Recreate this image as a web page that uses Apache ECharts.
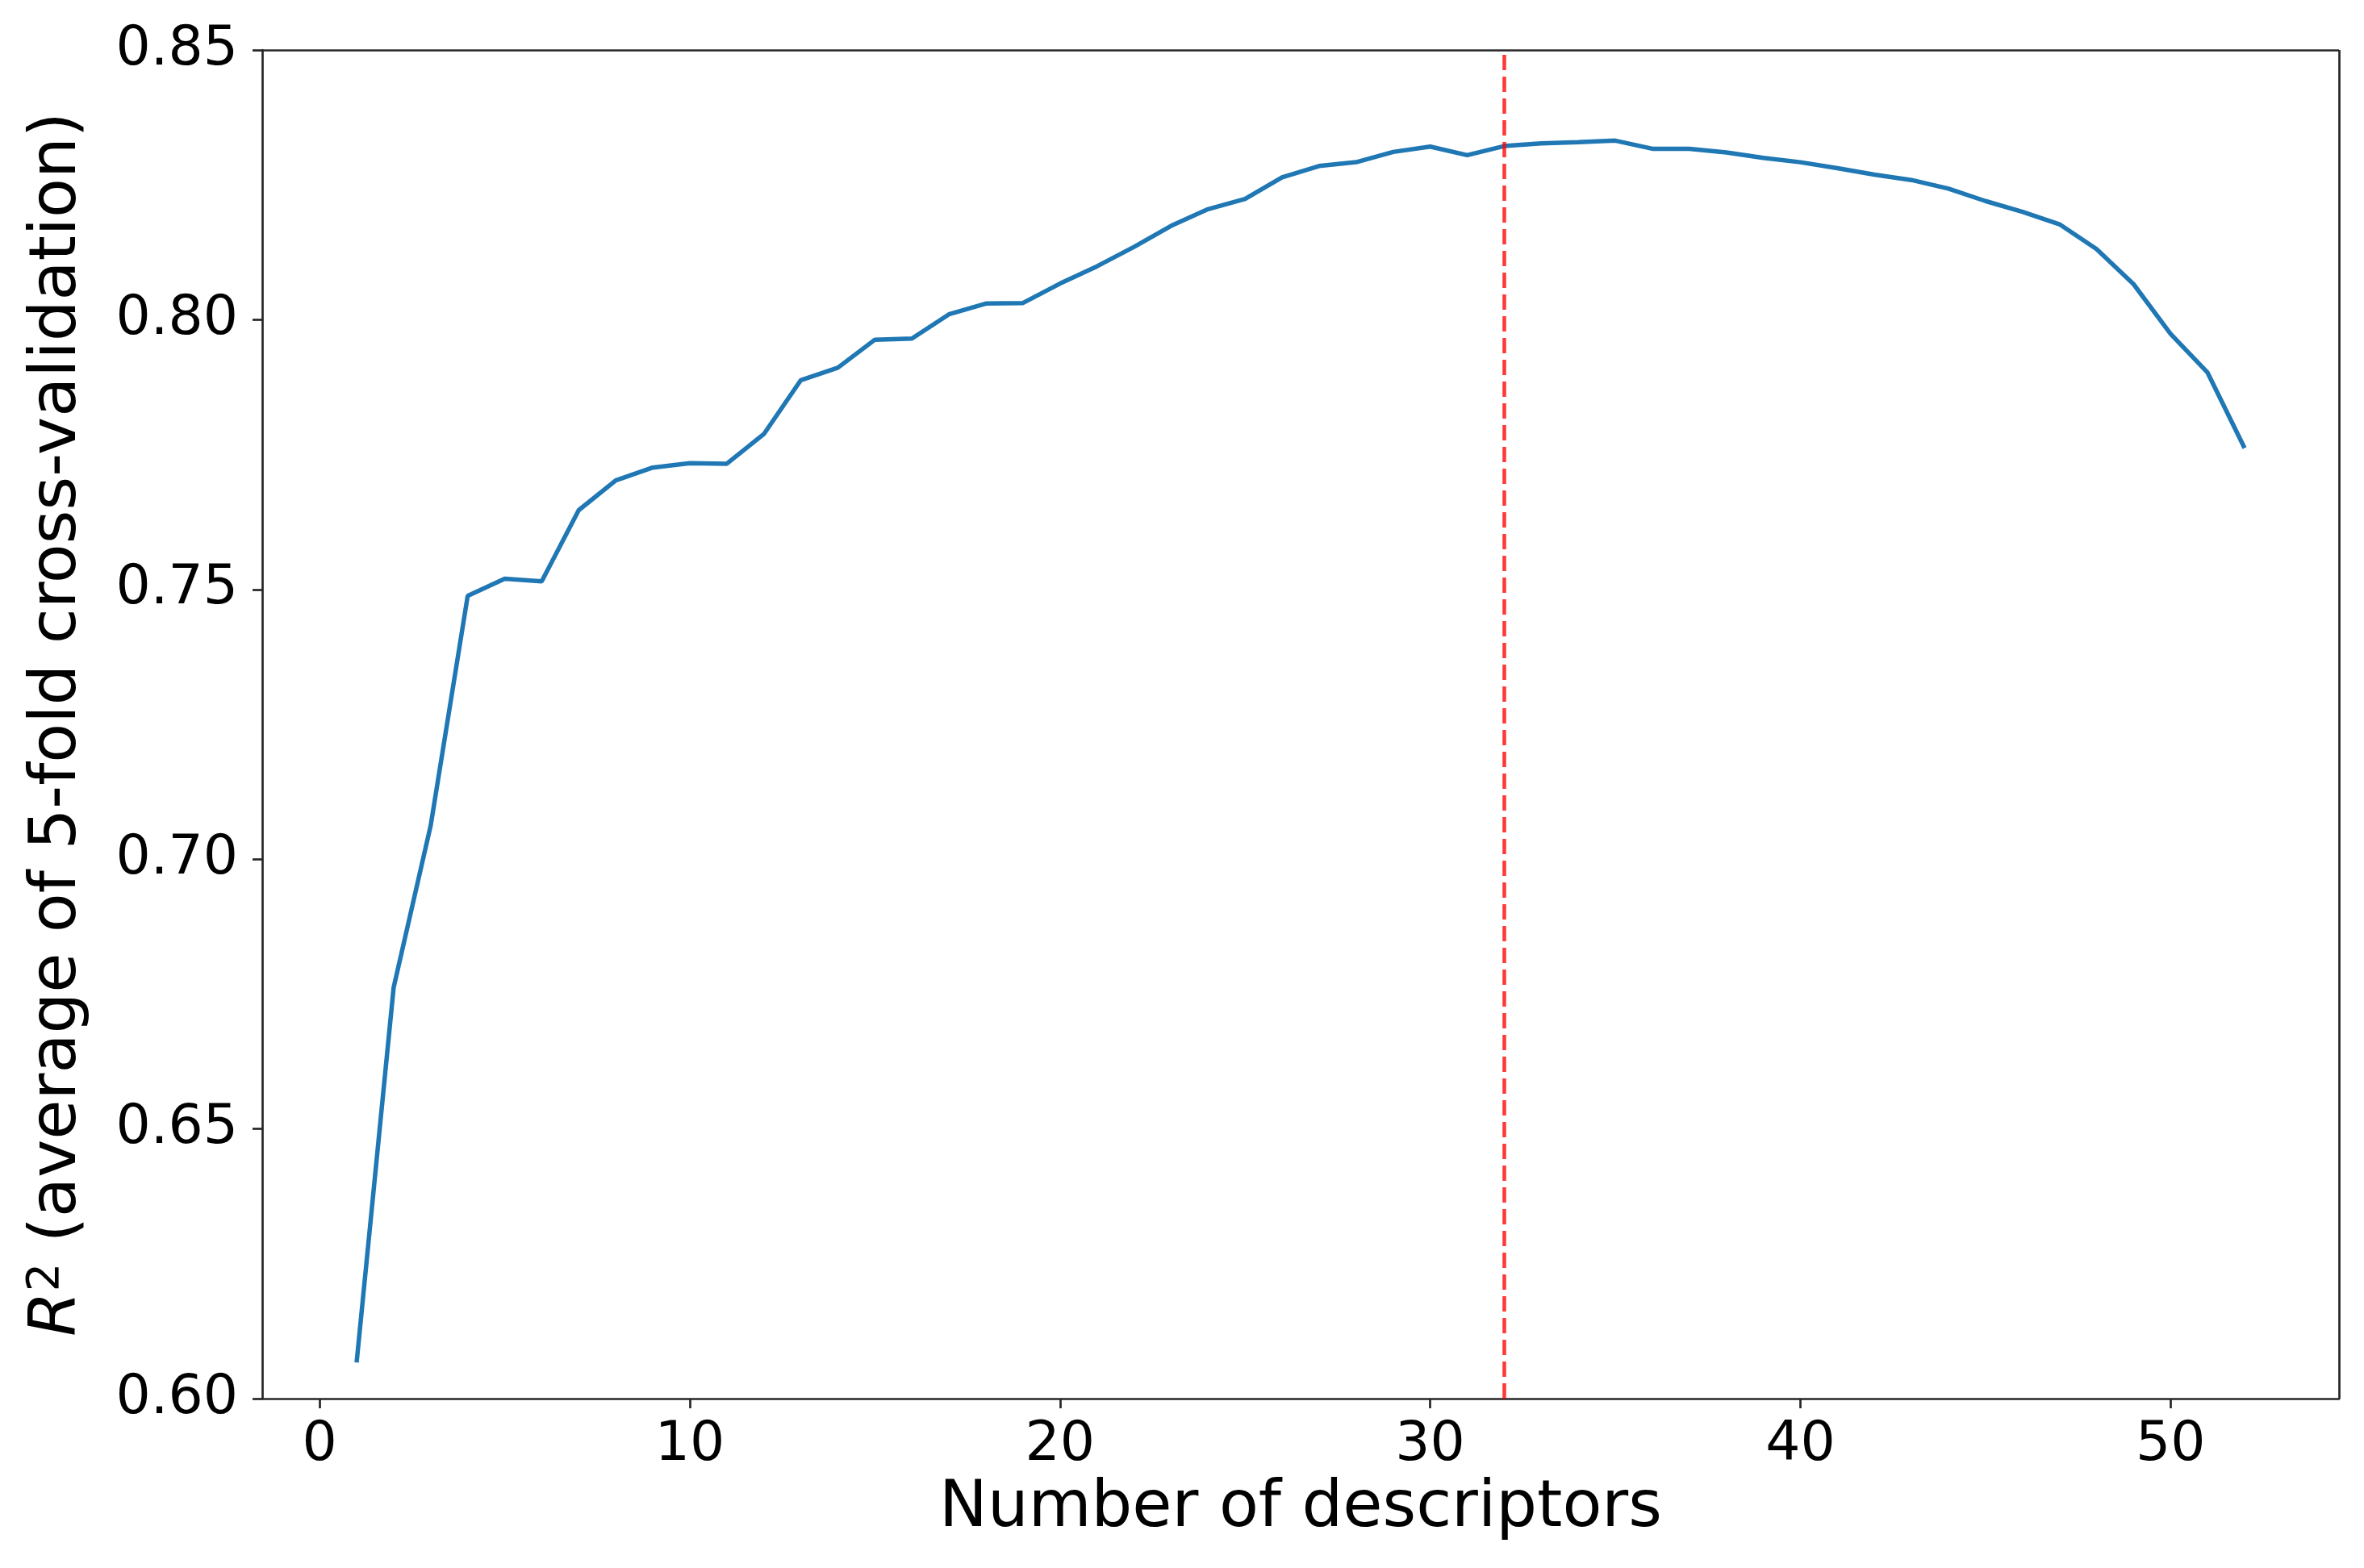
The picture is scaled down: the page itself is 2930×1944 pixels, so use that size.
<!DOCTYPE html>
<html>
<head>
<meta charset="utf-8">
<script src="https://cdn.jsdelivr.net/npm/echarts@6/dist/echarts.min.js"></script>
<style>
html,body{margin:0;padding:0;background:#fff;}
#chart{width:2930px;height:1944px;}
</style>
</head>
<body>
<div id="chart"></div>
<script>
// Number of descriptors (x values)
const descriptors = [1,2,3,4,5,6,7,8,9,10,11,12,13,14,15,16,17,18,19,20,21,22,23,24,25,26,27,28,29,30,31,32,33,34,35,36,37,38,39,40,41,42,43,44,45,46,47,48,49,50,51,52];
// R^2 average of 5-fold CV
const r2Values = [0.6067,0.6762,0.7062,0.7488,0.7520,0.7515,0.7647,0.7702,0.7726,0.7734,0.7733,0.7788,0.7888,0.7911,0.7963,0.7965,0.8010,0.8030,0.8031,0.8067,0.8099,0.8135,0.8174,0.8205,0.8224,0.8264,0.8285,0.8292,0.8311,0.8321,0.8305,0.8322,0.8327,0.8329,0.8332,0.8317,0.8317,0.8310,0.8300,0.8292,0.8281,0.8269,0.8259,0.8243,0.8220,0.8200,0.8177,0.8131,0.8066,0.7974,0.7902,0.7762];
const selectedCount = 32;
const xTicks = [0,10,20,30,40,50];
const yTicks = [0.60,0.65,0.70,0.75,0.80,0.85];

const chart = echarts.init(document.getElementById('chart'), null, {renderer:'canvas'});
const font = 'DejaVu Sans';
const axisColor = '#262626';
chart.setOption({
  animation:false,
  backgroundColor:'#ffffff',
  grid:{left:325, right:31, top:62, bottom:210, containLabel:false, show:false},
  xAxis:{
    type:'value', min:-1.55, max:54.55,
    name:'Number of descriptors', nameLocation:'middle', nameGap:96,
    nameTextStyle:{fontFamily:font, fontSize:80, color:'#000'},
    axisLine:{show:true, onZero:false, lineStyle:{color:axisColor, width:2.7}},
    axisTick:{show:true, inside:false, length:12, lineStyle:{color:axisColor, width:2.7}, customValues:xTicks},
    axisLabel:{fontFamily:font, fontSize:68, color:'#000', margin:24, customValues:xTicks, formatter:v=>String(Math.round(v))},
    splitLine:{show:false}
  },
  yAxis:{
    type:'value', min:0.60, max:0.85,
    name:'{it|R}{sup|2} (average of 5-fold cross-validation)', nameLocation:'middle', nameGap:210,
    nameTextStyle:{fontFamily:font, fontSize:80, color:'#000',
      rich:{
        it:{fontFamily:font, fontSize:80, fontStyle:'italic', color:'#000'},
        sup:{fontFamily:font, fontSize:56, color:'#000', verticalAlign:'top', padding:[0,0,30,0]}
      }},
    axisLine:{show:true, onZero:false, lineStyle:{color:axisColor, width:2.7}},
    axisTick:{show:true, inside:false, length:12, lineStyle:{color:axisColor, width:2.7}, customValues:yTicks},
    axisLabel:{fontFamily:font, fontSize:68, color:'#000', margin:30, customValues:yTicks, formatter:v=>v.toFixed(2)},
    splitLine:{show:false}
  },
  series:[
    {
      type:'line',
      data:descriptors.map((d,i)=>[d, r2Values[i]]),
      showSymbol:false, symbol:'none',
      lineStyle:{color:'#1f77b4', width:5.5},
      z:3,
      markLine:{
        silent:true, symbol:['none','none'], label:{show:false},
        lineStyle:{color:'rgba(255,0,0,0.78)', width:4.5, type:[19,8]},
        data:[{xAxis:selectedCount}]
      }
    },
    // frame (top and right spines)
    {
      type:'line', data:[], silent:true,
      markLine:{
        silent:true, symbol:['none','none'], label:{show:false},
        lineStyle:{color:axisColor, width:2.7, type:'solid'},
        data:[{yAxis:0.85},{xAxis:54.55}]
      }
    }
  ]
});
</script>
</body>
</html>
